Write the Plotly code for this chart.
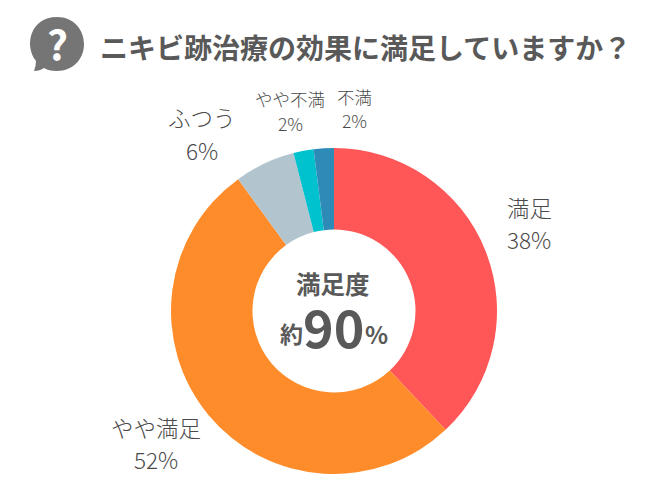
import plotly.graph_objects as go

categories = ["満足", "やや満足", "ふつう", "やや不満", "不満"]
values = [38, 52, 6, 2, 2]
colors = ["#FF5757", "#FF8C2A", "#B2C4CE", "#00C2CE", "#2E8BB8"]
title = "ニキビ跡治療の効果に満足していますか？"
FONT = "Noto Sans CJK JP"
W, H = 662, 500
GRAY = "#595959"
LIGHT = "#4A4A4A"

# label placement: category, pixel centre x, name y, pct y, font size
placements = [(0, 529, 207, 239, 22.5), (1, 156, 427, 459, 22.5), (2, 202, 117, 150, 22.5),
              (3, 290, 99, 123, 17.5), (4, 354, 97, 120, 17.5)]

def px(x): return x / W
def py(y): return 1 - y / H

fig = go.Figure(go.Pie(
    labels=categories, values=values, sort=False, direction="clockwise", rotation=0,
    hole=0.5, textinfo="none", hoverinfo="label+percent",
    marker=dict(colors=colors, line=dict(width=0)),
    domain=dict(x=[px(171), px(497)], y=[py(474), py(148)]),
    showlegend=False,
))

ann = []
def text(x, y, s, size, bold=False, anchor="center", color=GRAY, weight=None):
    ann.append(dict(x=px(x), y=py(y), xref="paper", yref="paper", text=f"<b>{s}</b>" if bold else s,
                    showarrow=False, xanchor=anchor, yanchor="middle",
                    font=dict(family=FONT, size=size, color=color, weight=weight or "normal")))

for i, x, y1, y2, size in placements:
    text(x, y1, categories[i], size, weight=300, color=LIGHT)
    text(x, y2, f"{values[i]}%", size, weight=300, color=LIGHT)

text(98, 47, title, 28, bold=True, anchor="left")
text(333, 283, "満足度", 24.5, bold=True)
text(291, 333, "約", 23, bold=True)
text(333, 325, "90", 52, bold=True)
text(376, 333, "%", 24, bold=True)
text(57, 42, "?", 41, bold=True, color="white")

shapes = [
    dict(type="path", xref="paper", yref="paper", fillcolor="#757575", line=dict(width=0),
         path=(f"M {px(34)} {py(71)} Q {px(36)} {py(66)} {px(36)} {py(61)} "
               f"C {px(24)} {py(46)} {px(30)} {py(17)} {px(57)} {py(17)} "
               f"C {px(74)} {py(17)} {px(84)} {py(30)} {px(84)} {py(44)} "
               f"C {px(84)} {py(60)} {px(72)} {py(71)} {px(57)} {py(71)} "
               f"C {px(51)} {py(71)} {px(47)} {py(70)} {px(44)} {py(68)} "
               f"Q {px(40)} {py(71)} {px(34)} {py(71)} Z")),
]

fig.update_layout(width=W, height=H, margin=dict(l=0, r=0, t=0, b=0),
                  paper_bgcolor="white", annotations=ann, shapes=shapes)
fig.write_html("out.html", config={"displayModeBar": False},
               post_script="document.body.style.margin='0';document.body.style.overflow='hidden';")
